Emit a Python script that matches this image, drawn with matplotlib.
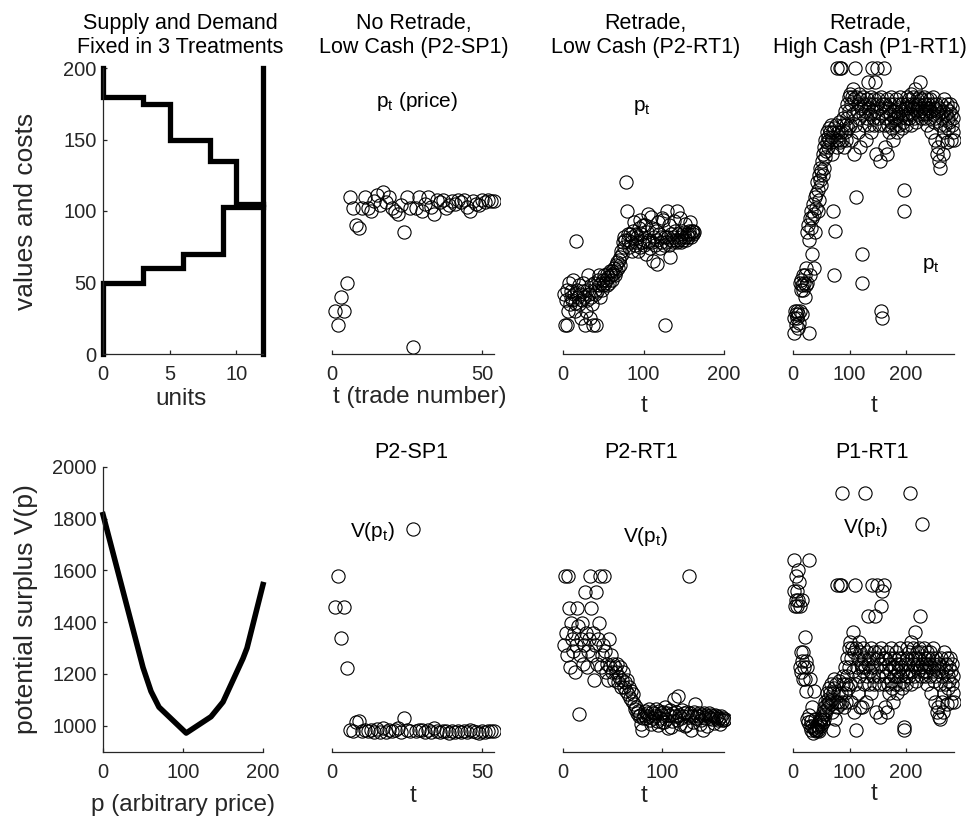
import numpy as np
import matplotlib
matplotlib.use("Agg")
import matplotlib.pyplot as plt
from matplotlib.transforms import Bbox, TransformedBbox

plt.rcParams['font.family'] = ['Liberation Sans', 'DejaVu Sans']
plt.rcParams['mathtext.fontset'] = 'custom'
plt.rcParams['mathtext.rm'] = 'Liberation Sans'
plt.rcParams['mathtext.it'] = 'Liberation Sans:italic'
plt.rcParams['mathtext.bf'] = 'Liberation Sans:bold'

# ---------------- data ----------------
# supply and demand schedules (top-left)
demand_units = [0, 0, 3, 5, 8, 10, 12]
demand_vals = [200, 180, 175, 150, 135, 105, 105]
supply_units = [0, 0, 3, 6, 9, 12]
supply_vals = [0, 50, 60, 70, 103, 103]
capacity_units = [12, 12]
capacity_vals = [0, 200]

# potential surplus curve (bottom-left)
vp_price = [0, 50, 60, 70, 104, 135, 150, 175, 180, 200]
vp_surplus = [1815, 1225, 1133, 1072, 972, 1035, 1092, 1260, 1300, 1545]

# P2-SP1 : prices and V(p_t)
sp1_price = [30, 20, 40, 30, 50, 110, 102, 90, 88, 102,
             110, 102, 100, 107, 111, 104, 113, 106, 110, 102,
             100, 98, 104, 85, 110, 102, 5, 102, 110, 100,
             105, 110, 103, 98, 108, 106, 108, 102, 104, 107,
             105, 108, 106, 108, 103, 100, 107, 105, 104, 108,
             106, 108, 107, 107]
sp1_V = [1460, 1577, 1340, 1460, 1224, 982, 978, 1015, 1020, 978,
         982, 978, 985, 976, 986, 976, 990, 976, 982, 978,
         985, 990, 976, 1032, 982, 978, 1760, 978, 982, 985,
         975, 982, 975, 990, 980, 976, 980, 978, 974, 978,
         975, 980, 976, 980, 975, 985, 978, 975, 974, 980,
         976, 980, 978, 978]

# P2-RT1 : prices and V(p_t)
rt2_price = [42, 20, 38, 45, 20, 30, 50, 35, 40, 44,
             38, 52, 42, 30, 36, 79, 45, 40, 35, 48,
             42, 25, 38, 50, 44, 40, 20, 30, 45, 38,
             55, 42, 25, 48, 40, 35, 20, 50, 45, 42,
             20, 44, 52, 48, 55, 40, 50, 45, 52, 48,
             55, 50, 52, 48, 56, 54, 50, 58, 55, 52,
             58, 56, 60, 55, 62, 58, 64, 60, 66, 62,
             68, 72, 70, 78, 75, 82, 80, 120, 100, 84,
             80, 75, 84, 78, 82, 72, 86, 92, 76, 84,
             78, 82, 72, 88, 94, 75, 84, 78, 90, 80,
             76, 90, 70, 85, 78, 98, 80, 74, 96, 88,
             78, 65, 82, 76, 86, 63, 80, 92, 84, 74,
             82, 78, 95, 94, 76, 82, 20, 78, 100, 82,
             90, 76, 68, 84, 80, 82, 78, 93, 86, 80,
             100, 78, 84, 80, 95, 82, 78, 84, 80, 85,
             82, 91, 80, 84, 82, 86, 84, 92, 82, 86,
             84, 86, 85]
rt2_V = [1311, 1577, 1360, 1275, 1577, 1455, 1225, 1395, 1335, 1287,
         1360, 1206, 1311, 1455, 1385, 1045, 1275, 1335, 1395, 1240,
         1311, 1515, 1360, 1225, 1287, 1335, 1577, 1455, 1275, 1360,
         1178, 1311, 1515, 1240, 1335, 1395, 1577, 1225, 1275, 1311,
         1577, 1287, 1206, 1240, 1178, 1335, 1225, 1275, 1206, 1240,
         1178, 1225, 1206, 1240, 1168, 1188, 1225, 1150, 1178, 1206,
         1150, 1168, 1133, 1178, 1121, 1150, 1109, 1133, 1097, 1121,
         1085, 1066, 1072, 1048, 1057, 1036, 1042, 1005, 984, 1030,
         1042, 1057, 1030, 1048, 1036, 1066, 1024, 1008, 1054, 1030,
         1048, 1036, 1066, 1018, 1002, 1057, 1030, 1048, 1015, 1042,
         1054, 1015, 1072, 1027, 1048, 990, 1042, 1060, 996, 1018,
         1048, 1103, 1036, 1054, 1024, 1115, 1042, 1008, 1030, 1060,
         1036, 1048, 1000, 1002, 1054, 1036, 1577, 1048, 984, 1036,
         1015, 1054, 1085, 1030, 1042, 1036, 1048, 1005, 1024, 1042,
         984, 1048, 1030, 1042, 998, 1036, 1048, 1030, 1042, 1027,
         1036, 1012, 1042, 1030, 1036, 1024, 1030, 1008, 1036, 1024,
         1030, 1024, 1027]

# P1-RT1 : prices and V(p_t)
rt1_price = [25, 15, 30, 20, 28, 25, 30, 18, 28, 22,
             50, 30, 45, 52, 48, 28, 55, 45, 50, 40,
             55, 48, 60, 85, 50, 90, 15, 80, 95, 55,
             88, 100, 70, 95, 105, 60, 98, 110, 85, 102,
             112, 120, 100, 115, 125, 108, 122, 130, 118, 128,
             135, 125, 140, 130, 145, 138, 150, 142, 155, 148,
             152, 145, 158, 150, 155, 148, 160, 152, 140, 155,
             100, 158, 55, 86, 150, 160, 145, 200, 155, 150,
             162, 200, 148, 155, 200, 230, 150, 165, 160, 145,
             155, 170, 160, 150, 175, 165, 158, 180, 170, 160,
             182, 175, 150, 180, 168, 185, 140, 178, 160, 200,
             110, 180, 170, 175, 155, 182, 165, 145, 178, 172,
             70, 50, 180, 168, 175, 160, 230, 170, 150, 178,
             165, 172, 190, 160, 175, 168, 180, 155, 170, 200,
             175, 165, 178, 160, 190, 170, 140, 175, 200, 165,
             178, 160, 172, 135, 180, 30, 25, 168, 175, 200,
             160, 175, 145, 170, 165, 178, 140, 160, 172, 155,
             168, 175, 162, 180, 158, 170, 150, 165, 175, 160,
             170, 165, 178, 155, 168, 172, 160, 175, 180, 165,
             170, 158, 175, 162, 168, 115, 100, 172, 165, 160,
             175, 180, 168, 172, 165, 178, 230, 182, 160, 175,
             168, 180, 172, 165, 175, 185, 170, 162, 178, 172,
             175, 168, 180, 170, 190, 165, 178, 172, 215, 168,
             170, 180, 165, 175, 172, 168, 178, 160, 175, 170,
             172, 165, 178, 170, 155, 175, 168, 180, 162, 172,
             165, 150, 175, 140, 170, 145, 168, 135, 172, 160,
             130, 175, 150, 165, 140, 170, 155, 178, 160, 168,
             172, 148, 175, 165, 158, 170, 162, 175, 150, 168,
             160, 172, 155, 165, 150]
rt1_V = [1520, 1638, 1461, 1579, 1485, 1520, 1461, 1603, 1485, 1555,
         1225, 1461, 1284, 1207, 1249, 1485, 1179, 1284, 1225, 1343,
         1179, 1249, 1133, 1028, 1225, 1013, 1638, 1042, 998, 1179,
         1019, 984, 1072, 998, 974, 1133, 990, 984, 1028, 978,
         988, 1004, 984, 994, 1015, 980, 1008, 1025, 1000, 1021,
         1035, 1015, 1054, 1025, 1073, 1046, 1092, 1062, 1126, 1084,
         1105, 1073, 1146, 1092, 1126, 1084, 1160, 1105, 1054, 1126,
         984, 1146, 1179, 1025, 1092, 1160, 1073, 1545, 1126, 1092,
         1173, 1545, 1084, 1126, 1545, 1900, 1092, 1193, 1160, 1073,
         1126, 1227, 1160, 1092, 1260, 1193, 1146, 1300, 1227, 1160,
         1325, 1260, 1092, 1300, 1213, 1361, 1054, 1284, 1160, 1545,
         984, 1300, 1227, 1260, 1126, 1325, 1193, 1073, 1284, 1240,
         1072, 1225, 1300, 1213, 1260, 1160, 1900, 1227, 1092, 1284,
         1193, 1240, 1422, 1160, 1260, 1213, 1300, 1126, 1227, 1545,
         1260, 1193, 1284, 1160, 1422, 1227, 1054, 1260, 1545, 1193,
         1284, 1160, 1240, 1035, 1300, 1461, 1520, 1213, 1260, 1545,
         1160, 1260, 1073, 1227, 1193, 1284, 1054, 1160, 1240, 1126,
         1213, 1260, 1173, 1300, 1146, 1227, 1092, 1193, 1260, 1160,
         1227, 1193, 1284, 1126, 1213, 1240, 1160, 1260, 1300, 1193,
         1227, 1146, 1260, 1173, 1213, 994, 984, 1240, 1193, 1160,
         1260, 1300, 1213, 1240, 1193, 1284, 1900, 1325, 1160, 1260,
         1213, 1300, 1240, 1193, 1260, 1361, 1227, 1173, 1284, 1240,
         1260, 1213, 1300, 1227, 1422, 1193, 1284, 1240, 1777, 1213,
         1227, 1300, 1193, 1260, 1240, 1213, 1284, 1160, 1260, 1227,
         1240, 1193, 1284, 1227, 1126, 1260, 1213, 1300, 1173, 1240,
         1193, 1092, 1260, 1054, 1227, 1073, 1213, 1035, 1240, 1160,
         1025, 1260, 1092, 1193, 1054, 1227, 1126, 1284, 1160, 1213,
         1240, 1084, 1260, 1193, 1146, 1227, 1173, 1260, 1092, 1213,
         1160, 1240, 1126, 1193, 1092]

# axis ticks
sd_xticks = [0, 5, 10]
sd_yticks = [0, 50, 100, 150, 200]
vp_xticks = [0, 100, 200]
vp_yticks = [1000, 1200, 1400, 1600, 1800, 2000]
sp1_xticks = [0, 50]
rt2_top_xticks = [0, 100, 200]
rt2_bot_xticks = [0, 100]
rt1_xticks = [0, 100, 200]

# ---------------- figure ----------------
W, H = 971, 816
fig = plt.figure(figsize=(W / 100, H / 100), dpi=100)
AXC = '#262626'
TICK_FS = 14.5
TITLE_FS = 15.5
XLAB_FS = 17.5
YLAB_FS = 19
TXT_FS = 15

cols = [(103, 263), (331.7, 494), (563.3, 724), (793.3, 954)]
rows = [(68, 354), (466.7, 751.7)]


def make_ax(c, r):
    x0, x1 = cols[c]
    y0, y1 = rows[r]
    return fig.add_axes([x0 / W, 1 - y1 / H, (x1 - x0) / W, (y1 - y0) / H])


def style(ax, show_y):
    ax.patch.set_visible(False)
    for s in ['top', 'right']:
        ax.spines[s].set_visible(False)
    ax.spines['bottom'].set_color(AXC)
    ax.spines['bottom'].set_linewidth(0.9)
    if show_y:
        ax.spines['left'].set_color(AXC)
        ax.spines['left'].set_linewidth(0.9)
    else:
        ax.spines['left'].set_visible(False)
        ax.set_yticks([])
    ax.tick_params(direction='in', length=3, width=0.9, colors=AXC,
                   labelsize=TICK_FS)
    ax.tick_params(axis='x', pad=8)
    ax.tick_params(axis='y', pad=4.5)


def xlab(ax, text, xc, yb, fs=XLAB_FS):
    ax.set_xlabel(text, fontsize=fs, color=AXC)
    ax.xaxis.set_label_coords(xc, yb)
    ax.xaxis.label.set_verticalalignment('baseline')


def ylab(ax, text):
    ax.set_ylabel(text, fontsize=YLAB_FS, color=AXC)
    ax.yaxis.set_label_coords(-0.436, 0.5)
    ax.yaxis.label.set_verticalalignment('baseline')


def scatter(ax, t, v):
    ln, = ax.plot(t, v, 'o', mfc='none', mec='black', ms=9.5, mew=0.8)
    ln.set_clip_box(TransformedBbox(Bbox([[-0.04, -0.04], [1.035, 1.035]]),
                                    ax.transAxes))


def top_title(ax, text, xc=0.5, pad=11):
    ax.set_title(text, fontsize=TITLE_FS, pad=pad, x=xc, color='black')


# --- top-left: supply & demand
a = make_ax(0, 0)
style(a, True)
a.plot(demand_units, demand_vals, drawstyle='steps-post', color='black',
       lw=3.8, clip_on=False, solid_joinstyle='miter')
a.plot(supply_units, supply_vals, drawstyle='steps-post', color='black',
       lw=3.8, clip_on=False, solid_joinstyle='miter')
a.plot(capacity_units, capacity_vals, color='black', lw=3.8, clip_on=False)
a.set_xlim(0, 12)
a.set_ylim(0, 200)
a.set_xticks(sd_xticks)
a.set_yticks(sd_yticks)
top_title(a, 'Supply and Demand\nFixed in 3 Treatments', xc=0.485)
xlab(a, 'units', 0.49, -0.178)
ylab(a, 'values and costs')

# --- top row scatter panels
b = make_ax(1, 0)
style(b, False)
scatter(b, np.arange(1, len(sp1_price) + 1), sp1_price)
b.set_xlim(0, 54)
b.set_ylim(0, 200)
b.set_xticks(sp1_xticks)
top_title(b, 'No Retrade,\nLow Cash (P2-SP1)', xc=0.505)
xlab(b, 't (trade number)', 0.545, -0.172, fs=17.5)
b.text(28.5, 173, r'$\mathregular{p_t}$ (price)', ha='center', va='baseline',
       fontsize=TXT_FS)

c = make_ax(2, 0)
style(c, False)
scatter(c, np.arange(1, len(rt2_price) + 1), rt2_price)
c.set_xlim(0, 200)
c.set_ylim(0, 200)
c.set_xticks(rt2_top_xticks)
top_title(c, 'Retrade,\nLow Cash (P2-RT1)', xc=0.511)
xlab(c, 't', 0.5, -0.203)
c.text(97.6, 170, r'$\mathregular{p_t}$', ha='center', va='baseline',
       fontsize=TXT_FS)

d = make_ax(3, 0)
style(d, False)
scatter(d, np.arange(1, len(rt1_price) + 1), rt1_price)
d.set_xlim(0, 285)
d.set_ylim(0, 200)
d.set_xticks(rt1_xticks)
top_title(d, 'Retrade,\nHigh Cash (P1-RT1)', xc=0.48)
xlab(d, 't', 0.5, -0.203)
d.text(244, 59.4, r'$\mathregular{p_t}$', ha='center', va='baseline',
       fontsize=TXT_FS)

# --- bottom-left: potential surplus
e = make_ax(0, 1)
style(e, True)
e.plot(vp_price, vp_surplus, color='black', lw=4.0, clip_on=False)
e.set_xlim(0, 200)
e.set_ylim(900, 2000)
e.set_xticks(vp_xticks)
e.set_yticks(vp_yticks)
xlab(e, 'p (arbitrary price)', 0.497, -0.208)
ylab(e, 'potential surplus V(p)')

# --- bottom row scatter panels
f = make_ax(1, 1)
style(f, False)
scatter(f, np.arange(1, len(sp1_V) + 1), sp1_V)
f.set_xlim(0, 54)
f.set_ylim(900, 2000)
f.set_xticks(sp1_xticks)
top_title(f, 'P2-SP1', xc=0.49, pad=6)
xlab(f, 't', 0.5, -0.175)
f.text(13.5, 1730, r'$\mathregular{V(p_t)}$', ha='center', va='baseline',
       fontsize=TXT_FS)

g = make_ax(2, 1)
style(g, False)
scatter(g, np.arange(1, len(rt2_V) + 1), rt2_V)
g.set_xlim(0, 162)
g.set_ylim(900, 2000)
g.set_xticks(rt2_bot_xticks)
top_title(g, 'P2-RT1', xc=0.485, pad=6)
xlab(g, 't', 0.5, -0.175)
g.text(82.5, 1711, r'$\mathregular{V(p_t)}$', ha='center', va='baseline',
       fontsize=TXT_FS)

h = make_ax(3, 1)
style(h, False)
scatter(h, np.arange(1, len(rt1_V) + 1), rt1_V)
h.set_xlim(0, 285)
h.set_ylim(900, 2000)
h.set_xticks(rt1_xticks)
top_title(h, 'P1-RT1', xc=0.49, pad=6)
xlab(h, 't', 0.5, -0.170)
h.text(128.7, 1743, r'$\mathregular{V(p_t)}$', ha='center', va='baseline',
       fontsize=TXT_FS)

fig.savefig('out.png', dpi=100)
